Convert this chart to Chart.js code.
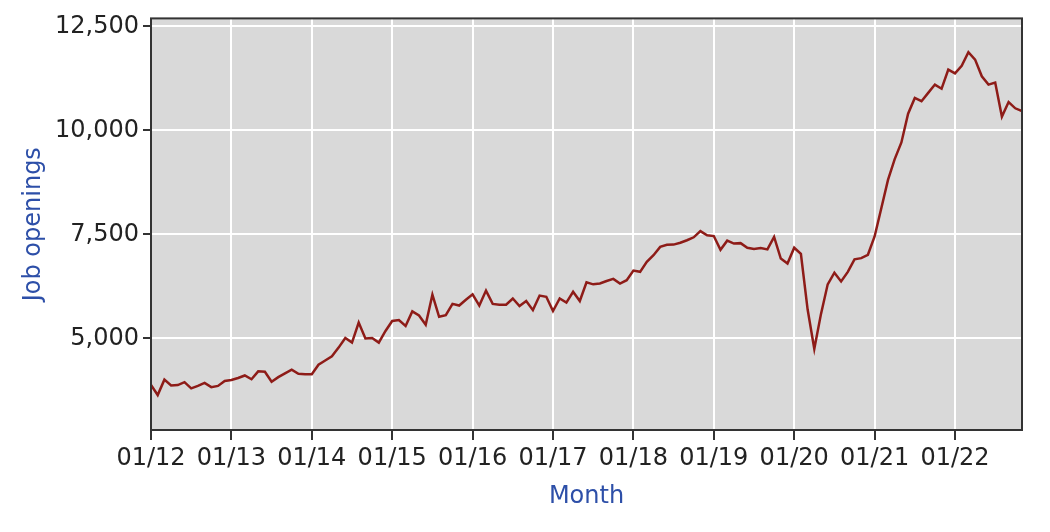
<!DOCTYPE html>
<html lang="en">
<head>
    <meta charset="UTF-8">
    <title>Job openings</title>
    <script src="https://cdn.jsdelivr.net/npm/chart.js"></script>
    <style>
        html, body {
            margin: 0;
            padding: 0;
            background: #ffffff;
        }
        #wrap {
            width: 1050px;
            height: 532px;
        }
    </style>
</head>
<body>
    <div id="wrap">
        <canvas id="jobsChart"></canvas>
    </div>

    <script>
        // Monthly job openings (thousands), 01/2012 .. 11/2022
        const openings2012 = [3880, 3640, 4010, 3870, 3880, 3950, 3800, 3860, 3930, 3830, 3860, 3980];
        const openings2013 = [4000, 4050, 4110, 4020, 4210, 4200, 3960, 4070, 4160, 4250, 4150, 4140];
        const openings2014 = [4140, 4370, 4470, 4570, 4780, 5010, 4900, 5380, 5000, 5010, 4900, 5180];
        const openings2015 = [5420, 5440, 5300, 5650, 5550, 5330, 6050, 5520, 5560, 5830, 5790, 5930];
        const openings2016 = [6060, 5790, 6150, 5830, 5812, 5812, 5960, 5780, 5900, 5680, 6030, 6000];
        const openings2017 = [5660, 5960, 5860, 6120, 5900, 6350, 6300, 6320, 6380, 6430, 6320, 6400];
        const openings2018 = [6630, 6600, 6840, 7000, 7200, 7250, 7255, 7300, 7360, 7430, 7580, 7480];
        const openings2019 = [7460, 7130, 7350, 7280, 7290, 7180, 7150, 7170, 7140, 7440, 6920, 6800];
        const openings2020 = [7180, 7030, 5700, 4750, 5590, 6300, 6580, 6370, 6600, 6900, 6930, 7010];
        const openings2021 = [7450, 8130, 8810, 9310, 9710, 10400, 10780, 10700, 10900, 11100, 11000, 11460];
        const openings2022 = [11370, 11550, 11880, 11700, 11300, 11100, 11150, 10330, 10680, 10530, 10460];

        // x ticks: month index of each January and its label
        const xTickIndex = [0, 12, 24, 36, 48, 60, 72, 84, 96, 108, 120];
        const xTickLabels = ['01/12', '01/13', '01/14', '01/15', '01/16', '01/17',
                             '01/18', '01/19', '01/20', '01/21', '01/22'];
        const yTicks = [5000, 7500, 10000, 12500];

        const openings = [].concat(openings2012, openings2013, openings2014, openings2015,
            openings2016, openings2017, openings2018, openings2019, openings2020,
            openings2021, openings2022);
        const points = openings.map((v, i) => ({ x: i, y: v }));

        const FONT = 'DejaVu Sans, Verdana, sans-serif';

        // grey plot background and dark frame round the plot area
        const plotFrame = {
            id: 'plotFrame',
            beforeDraw(chart) {
                const a = chart.chartArea;
                const ctx = chart.ctx;
                ctx.save();
                ctx.fillStyle = '#d9d9d9';
                ctx.fillRect(a.left, a.top, a.right - a.left, a.bottom - a.top);
                ctx.restore();
            },
            afterDraw(chart) {
                const a = chart.chartArea;
                const ctx = chart.ctx;
                ctx.save();
                ctx.strokeStyle = '#333333';
                ctx.lineWidth = 2;
                ctx.strokeRect(a.left, a.top, a.right - a.left, a.bottom - a.top);
                ctx.restore();
            }
        };

        const ctx = document.getElementById('jobsChart').getContext('2d');
        new Chart(ctx, {
            type: 'line',
            data: {
                datasets: [{
                    label: 'Job openings',
                    data: points,
                    borderColor: '#8e1c18',
                    borderWidth: 2.5,
                    pointRadius: 0,
                    tension: 0,
                    fill: false
                }]
            },
            options: {
                responsive: true,
                maintainAspectRatio: false,
                animation: false,
                layout: {
                    padding: { top: 16, right: 28, left: 0, bottom: 0 }
                },
                plugins: {
                    legend: { display: false },
                    tooltip: { enabled: false }
                },
                scales: {
                    x: {
                        type: 'linear',
                        min: 0,
                        max: openings.length - 1,
                        afterBuildTicks: axis => {
                            axis.ticks = xTickIndex.map(v => ({ value: v }));
                        },
                        afterFit: axis => { axis.height = 102; },
                        ticks: {
                            autoSkip: false,
                            maxRotation: 0,
                            minRotation: 0,
                            padding: 4,
                            color: '#222222',
                            font: { family: FONT, size: 24 },
                            callback: value => xTickLabels[xTickIndex.indexOf(value)]
                        },
                        grid: {
                            color: '#ffffff',
                            lineWidth: 2,
                            tickColor: '#333333',
                            tickWidth: 2,
                            tickLength: 10
                        },
                        border: { display: false },
                        title: {
                            display: true,
                            text: 'Month',
                            color: '#2d4fa8',
                            font: { family: FONT, size: 24 },
                            padding: { top: 0, bottom: 21 }
                        }
                    },
                    y: {
                        type: 'linear',
                        min: 2800,
                        max: 12690,
                        afterBuildTicks: axis => {
                            axis.ticks = yTicks.map(v => ({ value: v }));
                        },
                        afterFit: axis => { axis.width = 151; },
                        ticks: {
                            padding: 4,
                            color: '#222222',
                            font: { family: FONT, size: 24 },
                            callback: value => value.toLocaleString('en-US')
                        },
                        grid: {
                            color: '#ffffff',
                            lineWidth: 2,
                            tickColor: '#333333',
                            tickWidth: 2,
                            tickLength: 8
                        },
                        border: { display: false },
                        title: {
                            display: true,
                            text: 'Job openings',
                            color: '#2d4fa8',
                            font: { family: FONT, size: 24 },
                            padding: { top: 19, bottom: 0 }
                        }
                    }
                }
            },
            plugins: [plotFrame]
        });
    </script>
</body>
</html>
